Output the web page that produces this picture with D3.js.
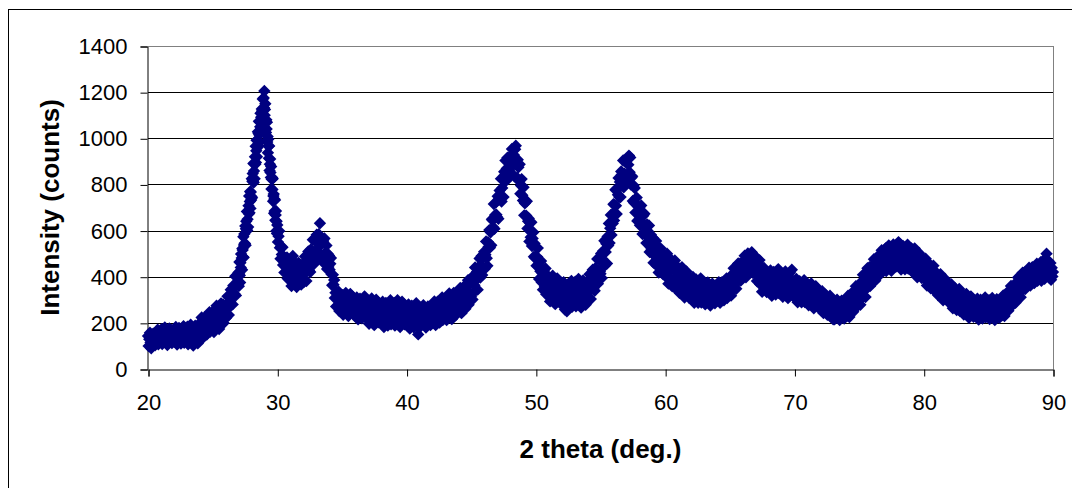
<!DOCTYPE html>
<html>
<head>
<meta charset="utf-8">
<script src="https://cdn.jsdelivr.net/npm/d3@7"></script>
<style>
  html, body { margin: 0; padding: 0; background: #fff; }
  svg { display: block; }
  text { font-family: "Liberation Sans", Arial, sans-serif; }
</style>
</head>
<body>
<div id="visualization"></div>
<script>
// Scan starts at 20 deg, one row of counts per degree.
// Rows are evenly spaced across their degree (20 points = 0.05 deg step,
// the steep main peak rows are read at 40 points).
var firstDegree = 20;

var counts = [
  [143,100,129,157,115,90,139,122,153,104,142,103,156,146,121,170,107,135,160,128],
  [127,172,108,150,165,134,180,115,142,157,104,161,131,176,119,146,169,112,153,123],
  [166,118,150,182,134,106,162,142,178,122,154,110,170,158,130,186,114,146,174,138],
  [129,183,107,156,174,138,192,116,147,165,102,170,134,188,120,152,179,111,161,125],
  [199,143,183,223,167,135,203,181,225,160,200,149,222,209,177,246,161,201,236,194],
  [183,251,160,223,247,205,274,182,223,247,173,258,215,284,204,245,280,199,263,220],
  [275,222,269,315,262,234,311,293,344,281,328,280,362,353,325,402,319,366,407,369],
  [418,359,412,464,405,375,460,440,498,429,481,430,522,516,486,573,483,537,585,545,
   543,620,536,608,640,607,683,600,649,682,615,708,673,750,677,726,769,696,767,732],
  [748,825,742,814,847,814,891,808,858,891,825,920,887,966,895,946,991,920,993,960,
   1028,969,1022,1074,1015,985,1070,1050,1108,1039,1091,1037,1127,1118,1086,1170,1078,1129,1175,1132],
  [1205,1100,1125,1150,1075,1025,1080,1040,1070,984,1008,937,996,965,913,967,860,888,910,852,
   830,878,780,822,830,778,825,727,750,758,675,737,685,733,645,667,685,598,640,587],
  [624,551,575,598,526,478,531,496,528,451,480,418,481,460,421,483,392,426,456,408],
  [388,454,360,421,490,399,465,372,410,432,355,438,394,460,377,416,449,366,427,383],
  [446,377,432,488,418,381,473,447,509,427,482,420,518,505,467,560,453,508,557,507],
  [499,582,477,553,584,537,632,500,540,561,465,555,495,566,461,502,535,433,500,442],
  [492,430,456,481,411,363,408,365,386,308,331,271,332,312,275,335,251,285,315,272],
  [260,320,235,290,310,270,330,245,280,300,230,305,265,325,250,285,315,240,295,255],
  [290,230,270,310,250,215,285,260,305,235,275,220,295,280,245,315,225,265,300,255],
  [225,294,196,260,283,236,306,207,248,271,190,277,231,300,213,254,289,202,265,219],
  [269,199,246,292,223,182,263,234,286,205,252,188,275,257,217,298,194,240,281,228],
  [217,286,188,252,275,228,298,199,240,263,182,269,223,292,205,246,281,194,257,211],
  [258,192,236,280,214,175,252,225,274,197,241,181,263,247,208,285,186,230,150,219],
  [209,266,185,238,257,218,276,194,228,247,180,252,214,271,199,233,262,190,242,204],
  [268,203,248,293,228,190,268,242,292,216,261,201,285,270,232,310,212,257,296,248],
  [239,309,212,278,302,256,327,229,272,296,216,304,259,330,244,286,322,236,301,256],
  [320,250,301,351,281,242,328,300,356,275,325,261,354,338,298,385,279,329,373,322],
  [316,395,301,374,406,363,440,343,390,421,344,441,400,479,396,446,490,407,480,438],
  [508,434,495,553,480,447,550,530,602,526,593,536,649,645,614,715,608,668,721,669],
  [659,749,651,735,774,735,825,726,785,823,745,855,815,904,816,869,916,825,904,857],
  [921,850,902,954,881,840,928,897,952,968,907,829,907,874,815,887,760,795,823,753],
  [730,788,666,718,727,665,727,609,640,652,553,633,571,636,533,566,593,487,544,481],
  [530,448,486,524,442,390,464,424,468,376,417,344,428,404,357,436,324,368,406,348],
  [324,395,293,358,381,333,404,301,342,366,281,370,322,393,302,344,379,288,353,305],
  [351,277,326,376,301,258,345,314,250,283,332,264,357,339,295,382,270,320,363,308],
  [303,378,272,340,365,316,390,285,328,353,266,359,309,384,291,334,371,278,347,297],
  [371,302,356,411,341,303,395,369,430,348,402,339,437,424,385,477,370,425,473,423],
  [413,501,394,476,511,465,556,449,507,543,457,574,535,631,546,610,668,581,670,631],
  [714,644,711,777,708,672,777,755,828,745,811,745,856,842,802,904,788,847,900,842],
  [830,912,814,885,925,853,917,800,830,835,728,796,721,784,678,714,743,642,704,647],
  [700,623,666,709,632,585,664,626,673,582,622,546,626,598,546,622,507,548,582,520],
  [501,568,461,522,541,488,555,448,485,505,418,505,454,523,430,469,502,410,474,424],
  [483,401,451,500,418,370,458,422,478,384,433,358,453,431,382,470,350,399,442,380],
  [365,438,330,397,420,369,441,334,376,399,310,401,349,423,328,369,404,309,377,325],
  [379,308,354,399,329,287,367,337,388,306,352,287,373,354,313,393,288,333,373,319],
  [305,365,280,335,355,315,375,290,325,345,275,350,310,370,295,330,360,285,340,300],
  [354,297,337,376,320,287,355,332,376,310,350,298,371,357,325,393,308,347,382,339],
  [334,402,318,380,406,370,437,352,392,416,348,431,391,457,383,423,458,383,444,405],
  [461,402,446,491,431,398,474,451,501,430,473,418,497,482,506,500,416,453,484,433],
  [417,483,381,440,458,406,472,367,402,420,335,419,371,438,349,388,422,334,396,349],
  [404,334,381,427,358,317,398,369,421,340,387,323,410,392,352,433,329,375,416,363],
  [342,411,313,377,400,353,423,324,365,388,307,394,348,417,330,371,430,319,382,336],
  [371,308,348,390,326,289,361,334,381,307,347,289,366,351,313,385,290,331,367,320],
  [304,366,276,332,352,310,371,282,317,337,263,340,297,359,280,315,345,266,323,280],
  [324,264,301,337,278,242,307,281,322,253,290,235,305,288,253,318,230,266,298,252],
  [215,291,215,264,282,246,300,224,255,273,212,278,242,296,228,260,287,219,269,233],
  [288,229,273,318,258,225,301,278,328,258,302,248,329,317,283,359,268,313,352,309],
  [297,371,278,347,375,333,408,314,360,388,312,404,363,437,355,401,441,359,427,386],
  [446,387,431,476,416,383,459,436,486,416,460,405,486,474,440,515,424,469,507,464],
  [452,522,425,488,513,468,536,441,482,506,426,514,468,540,453,494,530,444,510,463],
  [521,550,497,542,472,431,510,481,533,451,497,432,519,500,467,539,435,480,519,467],
  [455,522,422,483,504,455,523,422,460,481,398,483,433,502,413,451,484,394,456,407],
  [464,391,435,478,406,362,440,408,457,373,417,350,434,413,370,448,341,384,422,366],
  [351,412,321,375,394,351,411,321,354,373,298,374,330,390,310,344,373,293,348,304],
  [351,287,326,366,301,263,334,306,351,276,315,256,332,315,276,347,251,291,325,277],
  [260,319,236,288,307,266,325,239,274,293,222,296,255,315,239,273,302,226,280,240],
  [286,228,267,305,248,214,281,257,300,233,272,219,291,276,243,310,224,262,296,252],
  [241,298,217,270,289,250,308,226,260,279,212,284,246,303,231,265,294,222,274,236],
  [290,233,276,319,262,230,303,281,329,262,305,253,331,319,287,360,273,316,354,312],
  [305,369,287,346,369,333,397,315,354,377,311,390,353,417,345,384,418,346,405,368],
  [419,370,404,439,389,362,422,402,441,383,417,372,436,425,396,456,382,417,447,411],
  [406,463,382,435,454,415,473,391,425,444,500,449,411,468,396,430,459,387,439,401],
  [420]
];

var xTicks = [20, 30, 40, 50, 60, 70, 80, 90];
var yTicks = [0, 200, 400, 600, 800, 1000, 1200, 1400];
var xTitle = "2 theta (deg.)";
var yTitle = "Intensity (counts)";

// flatten the rows into [2theta, counts] points
var points = [];
counts.forEach(function (row, r) {
  row.forEach(function (v, j) {
    points.push([firstDegree + r + j / row.length, v]);
  });
});

var width = 1072, height = 488;
var plot = {left: 148, right: 1053, top: 46, bottom: 369};

var svg = d3.select("#visualization").append("svg")
  .attr("width", width)
  .attr("height", height);

// chart area border (runs off the right and bottom edges like the original)
svg.append("rect")
  .attr("x", 8.5).attr("y", 9.5)
  .attr("width", 1100).attr("height", 500)
  .attr("fill", "#fff")
  .attr("stroke", "#000");

var x = d3.scaleLinear().domain([20, 90]).range([plot.left, plot.right]);
var y = d3.scaleLinear().domain([0, 1400]).range([plot.bottom, plot.top]);

// horizontal gridlines
svg.append("g")
  .selectAll("line")
  .data(yTicks.slice(1))
  .enter()
  .append("line")
    .attr("x1", plot.left).attr("x2", plot.right)
    .attr("y1", function (d) { return Math.round(y(d)) + 0.5; })
    .attr("y2", function (d) { return Math.round(y(d)) + 0.5; })
    .attr("stroke", function (d) { return d === 1400 ? "#808080" : "#000"; })
    .attr("stroke-width", 1);

// plot area right edge
svg.append("line")
  .attr("x1", plot.right + 0.5).attr("x2", plot.right + 0.5)
  .attr("y1", plot.top).attr("y2", plot.bottom)
  .attr("stroke", "#808080");

// y axis
var yAxis = svg.append("g")
  .attr("transform", "translate(" + (plot.left - 0.5) + ",0.5)")
  .call(d3.axisLeft(y).tickValues(yTicks).tickSize(7).tickPadding(13).tickFormat(d3.format("d")));

// x axis
var xAxis = svg.append("g")
  .attr("transform", "translate(0.5," + (plot.bottom + 0.5) + ")")
  .call(d3.axisBottom(x).tickValues(xTicks).tickSize(7).tickPadding(18).tickFormat(d3.format("d")));

[yAxis, xAxis].forEach(function (g) {
  g.selectAll("path, line").attr("stroke", "#000");
  g.selectAll("text")
    .style("font-family", "'Liberation Sans', Arial, sans-serif")
    .style("font-size", "22px")
    .attr("fill", "#000");
});

// data markers: filled navy diamonds
var diamond = "M0,-6.2L6.2,0L0,6.2L-6.2,0Z";
svg.append("g")
  .selectAll("path")
  .data(points)
  .enter()
  .append("path")
    .attr("d", diamond)
    .attr("transform", function (d) { return "translate(" + x(d[0]) + "," + y(d[1]) + ")"; })
    .attr("fill", "#000080");

// axis titles
svg.append("text")
  .attr("x", (plot.left + plot.right) / 2)
  .attr("y", 458)
  .attr("text-anchor", "middle")
  .style("font-size", "26px")
  .style("font-weight", "bold")
  .text(xTitle);

svg.append("text")
  .attr("transform", "translate(59," + ((plot.top + plot.bottom) / 2) + ") rotate(-90)")
  .attr("text-anchor", "middle")
  .style("font-size", "26px")
  .style("font-weight", "bold")
  .text(yTitle);
</script>
</body>
</html>
